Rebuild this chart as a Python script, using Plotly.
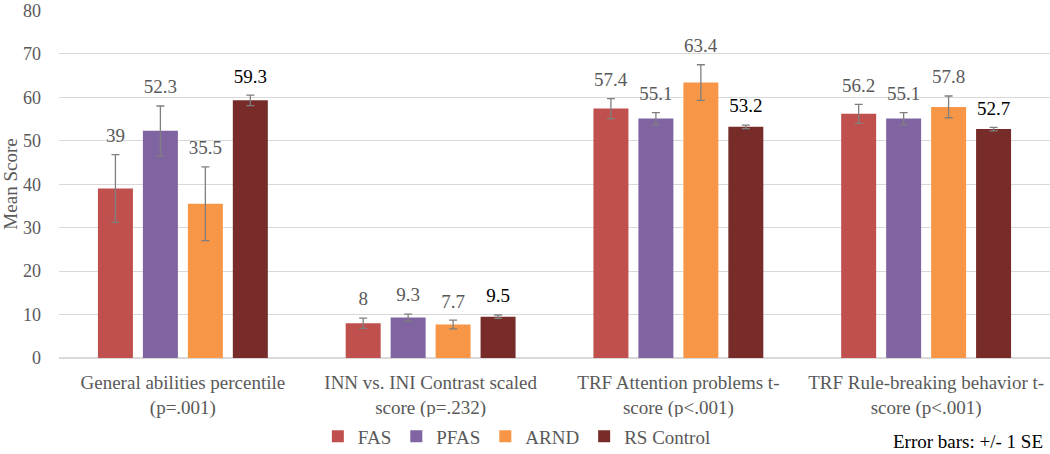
import plotly.graph_objects as go

categories = ["General abilities percentile<br>(p=.001)",
              "INN vs. INI Contrast scaled<br>score (p=.232)",
              "TRF Attention problems t-<br>score (p<.001)",
              "TRF Rule-breaking behavior t-<br>score (p<.001)"]
series_names = ["FAS", "PFAS", "ARND", "RS Control"]
fas = [39, 8, 57.4, 56.2]
pfas = [52.3, 9.3, 55.1, 55.1]
arnd = [35.5, 7.7, 63.4, 57.8]
rs_control = [59.3, 9.5, 53.2, 52.7]
fas_se = [7.8, 1.2, 2.3, 2.2]
pfas_se = [5.7, 0.8, 1.4, 1.4]
arnd_se = [8.5, 1.0, 4.1, 2.5]
rs_se = [1.2, 0.4, 0.4, 0.4]
y_ticks = [0, 10, 20, 30, 40, 50, 60, 70, 80]

colors = ["#C0504D", "#8064A2", "#F79646", "#772C2A"]
label_colors = ["#595959", "#595959", "#595959", "#000000"]
values = [fas, pfas, arnd, rs_control]
ses = [fas_se, pfas_se, arnd_se, rs_se]

FONT = "Liberation Serif, Times New Roman, serif"
LABEL_GAP = 1.3  # data units between error-bar top and label

fig = go.Figure()
for i, (name, vals, se, c) in enumerate(zip(series_names, values, ses, colors)):
    fig.add_trace(go.Bar(
        name=name, x=categories, y=vals, offsetgroup=str(i),
        marker=dict(color=c, line=dict(width=0)),
        error_y=dict(type="data", array=se, visible=True, color="#7F7F7F",
                     thickness=1.3, width=4),
        hoverinfo="skip",
    ))
for i, (name, vals, se, lc) in enumerate(zip(series_names, values, ses, label_colors)):
    fig.add_trace(go.Bar(
        name=name + " labels", x=categories,
        y=[v + s + LABEL_GAP for v, s in zip(vals, se)],
        offsetgroup=str(i), showlegend=False,
        marker=dict(color="rgba(0,0,0,0)", line=dict(width=0)),
        text=[f"{v:g}" for v in vals], textposition="outside",
        textfont=dict(family=FONT, size=19, color=lc),
        cliponaxis=False, hoverinfo="skip",
    ))

fig.update_layout(
    barmode="group", bargap=0.274, bargroupgap=0.222,
    width=1050, height=454,
    margin=dict(l=59, r=0, t=10, b=96, autoexpand=False),
    plot_bgcolor="white", paper_bgcolor="white",
    font=dict(family=FONT, color="#595959"),
    showlegend=True,
    legend=dict(orientation="h", x=0.462, xanchor="center", y=-0.225, yanchor="middle",
                font=dict(family=FONT, size=19, color="#595959"),
                itemwidth=30, traceorder="normal"),
    yaxis=dict(range=[0, 80.1], tickvals=y_ticks, showgrid=True, gridcolor="#D9D9D9",
               gridwidth=1, zeroline=True, zerolinecolor="#D9D9D9", automargin=False,
               tickfont=dict(family=FONT, size=18, color="#595959"),
               ticklabelstandoff=17, ticklabeloverflow="allow",
               title=dict(text="Mean Score", font=dict(family=FONT, size=19, color="#595959"),
                          standoff=0),
               ticks="", showline=False),
    xaxis=dict(tickfont=dict(family=FONT, size=19, color="#595959"), ticks="",
               ticklabelstandoff=7,
               showline=True, linecolor="#D9D9D9", automargin=False),
    annotations=[dict(text="Error bars: +/- 1 SE", xref="paper", yref="paper",
                      x=0.995, y=-0.239, xanchor="right", yanchor="middle", showarrow=False,
                      font=dict(family=FONT, size=19, color="#000000"))],
)

fig.write_html("out.html", config={"displayModeBar": False},
               post_script="document.body.style.margin='0';")
